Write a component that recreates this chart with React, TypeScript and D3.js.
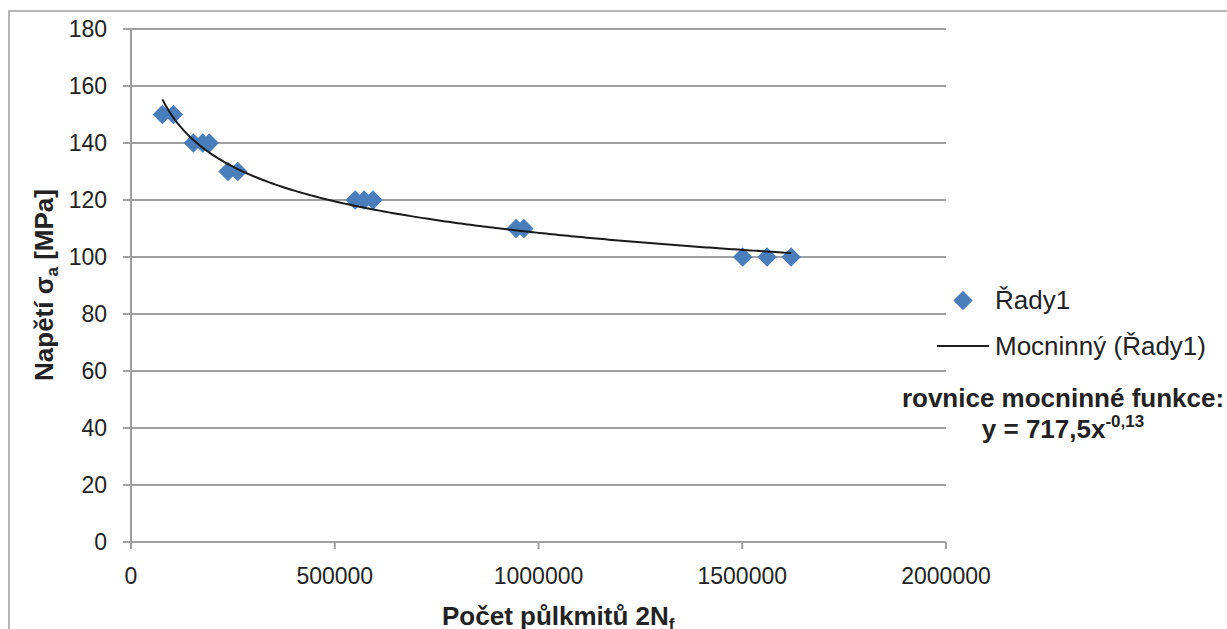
import React from "react";
import * as d3 from "d3";

const xValues = [77000, 104000, 153000, 176000, 192000, 238000, 262000, 550000, 572000, 594000, 945000, 964000, 1501000, 1561000, 1620000];
const yValues = [150, 150, 140, 140, 140, 130, 130, 120, 120, 120, 110, 110, 100, 100, 100];
const xTicks = [0, 500000, 1000000, 1500000, 2000000];
const yTicks = [0, 20, 40, 60, 80, 100, 120, 140, 160, 180];
const seriesName = "Řady1";
const trendName = "Mocninný (Řady1)";

const W = 1227;
const H = 629;
const left = 131, right = 946, top = 29, bottom = 542;
const grid = "#a0a0a0";
const blue = "#4a7ebb";
const font = "'Liberation Sans', Arial, sans-serif";

export default function App() {
  const x = d3.scaleLinear().domain([0, 2000000]).range([left, right]);
  const y = d3.scaleLinear().domain([0, 180]).range([bottom, top]);

  // power fit y = a*x^b via log-log regression
  const lx = xValues.map(Math.log);
  const ly = yValues.map(Math.log);
  const mx = d3.mean(lx)!;
  const my = d3.mean(ly)!;
  const b = d3.sum(lx.map((v, i) => (v - mx) * (ly[i] - my))) / d3.sum(lx.map(v => (v - mx) ** 2));
  const a = Math.exp(my - b * mx);
  const [xmin, xmax] = d3.extent(xValues) as [number, number];
  const trendPts = d3.range(0, 201).map(i => {
    const xv = xmin + (xmax - xmin) * i / 200;
    return [xv, a * Math.pow(xv, b)] as [number, number];
  });
  const line = d3.line<[number, number]>().x(d => x(d[0])).y(d => y(d[1]));

  const diamond = (cx: number, cy: number, r: number) =>
    `M${cx},${cy - r}L${cx + r},${cy}L${cx},${cy + r}L${cx - r},${cy}Z`;

  return (
    <svg width={W} height={H} style={{ position: "absolute", left: 0, top: 0, background: "#fff" }} fontFamily={font}>
      <rect x={9} y={11} width={W + 10} height={H + 10} fill="#fff" stroke={grid} strokeWidth={1.5} />
      {yTicks.map(t => (
        <g key={"y" + t}>
          <line x1={left - 8} x2={right} y1={y(t)} y2={y(t)} stroke={grid} strokeWidth={2} />
          <text x={107} y={y(t)} dy="0.36em" textAnchor="end" fontSize={23} fill="#222">{t}</text>
        </g>
      ))}
      <line x1={left} x2={left} y1={top} y2={bottom + 7} stroke={grid} strokeWidth={2} />
      {xTicks.map(t => (
        <g key={"x" + t}>
          <line x1={x(t)} x2={x(t)} y1={bottom} y2={bottom + 7} stroke={grid} strokeWidth={2} />
          <text x={x(t)} y={584} textAnchor="middle" fontSize={23} fill="#222">{t}</text>
        </g>
      ))}
      {xValues.map((v, i) => (
        <path key={"p" + i} d={diamond(x(v), y(yValues[i]), 9.7)} fill={blue} />
      ))}
      <path d={line(trendPts) || ""} fill="none" stroke="#1a1a1a" strokeWidth={2} />

      <text transform="translate(53,285) rotate(-90)" textAnchor="middle" fontSize={26} fontWeight="bold" fill="#222">
        Napětí σ<tspan fontSize={17} dy={5}>a</tspan><tspan dy={-5}> [MPa]</tspan>
      </text>
      <text x={442} y={625} fontSize={26} fontWeight="bold" fill="#222">
        Počet půlkmitů 2N<tspan fontSize={17} dy={5}>f</tspan>
      </text>

      <path d={diamond(963, 300.5, 9.7)} fill={blue} />
      <text x={995} y={309} fontSize={26} fill="#222">{seriesName}</text>
      <line x1={937} x2={989} y1={346} y2={346} stroke="#1a1a1a" strokeWidth={2} />
      <text x={995} y={355} fontSize={26} fill="#222">{trendName}</text>

      <text x={1063} y={407} textAnchor="middle" fontSize={26} fontWeight="bold" fill="#222">rovnice mocninné funkce:</text>
      <text x={1063} y={438} textAnchor="middle" fontSize={26} fontWeight="bold" fill="#222">
        y = 717,5x<tspan fontSize={17} dy={-11}>-0,13</tspan>
      </text>
    </svg>
  );
}
